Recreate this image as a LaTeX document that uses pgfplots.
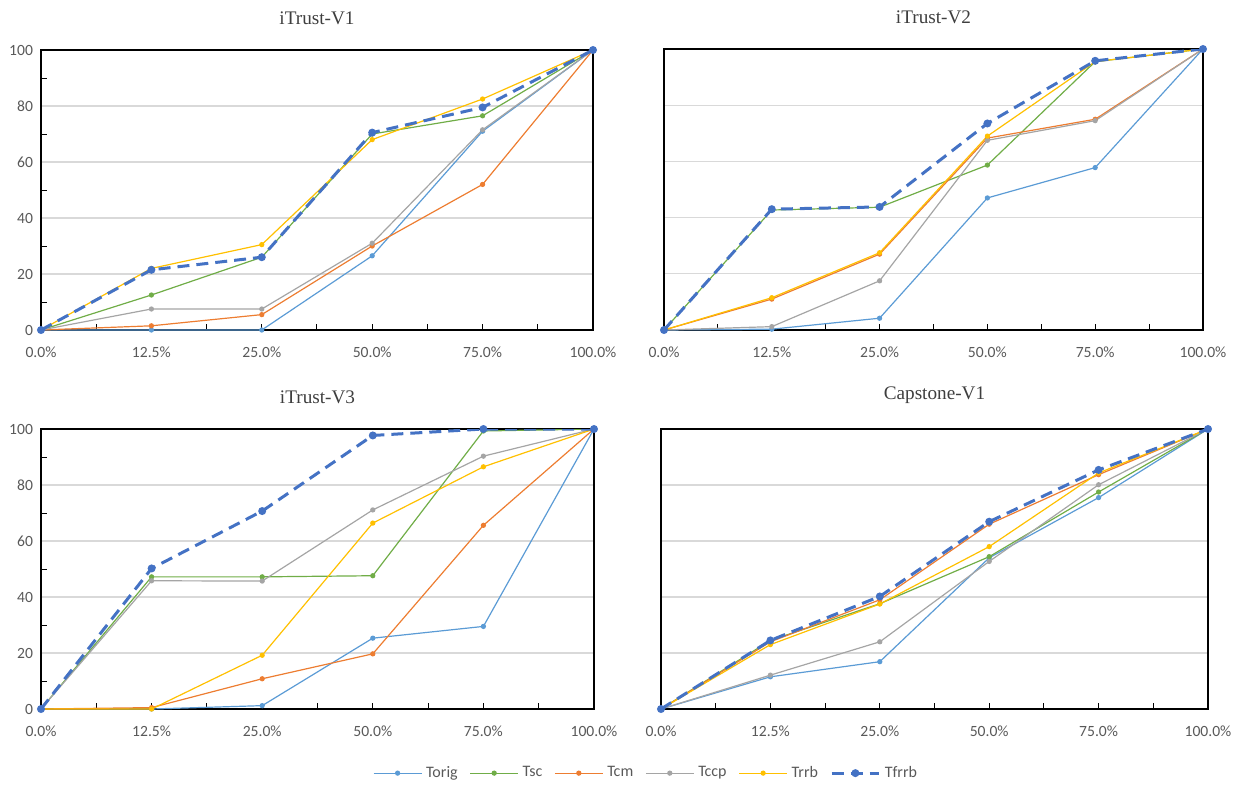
\documentclass[border=0pt]{standalone}
\usepackage{fontspec}
\setmainfont{Carlito}
\newfontfamily\titlefont{Liberation Serif}
\usepackage{pgfplots}
\pgfplotsset{compat=1.18}
\definecolor{corig}{HTML}{5B9BD5}
\definecolor{csc}{HTML}{70AD47}
\definecolor{ccm}{HTML}{ED7D31}
\definecolor{cccp}{HTML}{A5A5A5}
\definecolor{crrb}{HTML}{FFC000}
\definecolor{cfrrb}{HTML}{4472C4}
\definecolor{gridgray}{HTML}{D9D9D9}
\definecolor{labelgray}{HTML}{595959}
\pgfplotsset{
  panel/.style={
    scale only axis, height=140pt,
    xmin=0, xmax=5, ymin=0, ymax=100,
    xtick={0,...,5},
    xticklabels={0.0\%,12.5\%,25.0\%,50.0\%,75.0\%,100.0\%},
    minor xtick={0.5,1.5,...,4.5},
    ytick={0,20,...,100},
    ymajorgrids, grid style={draw=gridgray, line width=0.6pt},
    axis line style={black, line width=0.8pt},
    tick pos=left, tick align=inside,
    major tick length=3pt, minor tick length=3pt,
    tick style={black, line width=0.5pt},
    major y tick style={draw=none},
    ticklabel style={font=\fontsize{7.8}{9}\selectfont, text=labelgray},
    /pgf/number format/assume math mode=true,
    yticklabel style={xshift=-0.5pt},
    xticklabel style={yshift=-5pt},
    title style={font=\titlefont\fontsize{9.6}{11}\selectfont, text=labelgray!70!black, at={(0.5,1)}, anchor=south, yshift=3pt},
    every axis plot/.append style={line width=0.6pt, mark=*, mark size=1pt},
  },
  leftpanel/.style={panel, minor ytick={10,30,...,90}},
  rightpanel/.style={panel, yticklabels={}},
  sorig/.style={color=corig},
  ssc/.style={color=csc},
  scm/.style={color=ccm},
  sccp/.style={color=cccp},
  srrb/.style={color=crrb},
  sfrrb/.style={color=cfrrb, line width=1.5pt, dash pattern=on 6pt off 3.5pt, mark size=1.2pt, mark options={solid}},
}
\begin{document}
\begin{tikzpicture}
\useasboundingbox (0,0) rectangle (619.5pt,-392pt);
% Panel 1
\begin{axis}[leftpanel, width=276pt, at={(20.5pt,-165pt)}, anchor=south west, title={iTrust-V1}]
\addplot[sorig] coordinates {(0,0) (1,0) (2,0) (3,26.5) (4,71) (5,100)};
\addplot[ssc] coordinates {(0,0) (1,12.5) (2,26) (3,70) (4,76.5) (5,100)};
\addplot[scm] coordinates {(0,0) (1,1.5) (2,5.5) (3,30) (4,52) (5,100)};
\addplot[sccp] coordinates {(0,0) (1,7.5) (2,7.5) (3,31) (4,71.5) (5,100)};
\addplot[srrb] coordinates {(0,0) (1,22) (2,30.5) (3,68) (4,82.5) (5,100)};
\addplot[sfrrb] coordinates {(0,0) (1,21.5) (2,26) (3,70.5) (4,79.5) (5,100)};
\end{axis}
% Panel 2
\begin{axis}[rightpanel, width=269.5pt, height=140.5pt, at={(332pt,-165pt)}, anchor=south west, title={iTrust-V2}]
\addplot[sorig] coordinates {(0,0) (1,0.3) (2,4.2) (3,47) (4,57.8) (5,100)};
\addplot[ssc] coordinates {(0,0) (1,42.7) (2,43.7) (3,58.7) (4,95.5) (5,100)};
\addplot[scm] coordinates {(0,0) (1,11) (2,27) (3,68.3) (4,75) (5,100)};
\addplot[sccp] coordinates {(0,0) (1,1.2) (2,17.5) (3,67.5) (4,74.5) (5,100)};
\addplot[srrb] coordinates {(0,0) (1,11.5) (2,27.5) (3,69) (4,95.5) (5,100)};
\addplot[sfrrb] coordinates {(0,0) (1,43) (2,43.8) (3,73.5) (4,95.8) (5,100)};
\end{axis}
% Panel 3
\begin{axis}[leftpanel, width=276.5pt, at={(20.5pt,-354.5pt)}, anchor=south west, title={iTrust-V3},
  legend columns=6,
  legend style={at={(1.096,-0.229)}, anchor=center, draw=none, fill=none,
    font=\fontsize{8}{10}\selectfont, text=labelgray,
    /tikz/every even column/.append style={column sep=4pt}},
  legend image code/.code={\draw[mark repeat=2,mark phase=2] plot coordinates {(0cm,0cm) (0.42cm,0cm) (0.84cm,0cm)};}]
\addplot[sorig] coordinates {(0,0) (1,0) (2,1.2) (3,25.3) (4,29.5) (5,100)};
\addplot[ssc] coordinates {(0,0) (1,47.2) (2,47.2) (3,47.6) (4,99.3) (5,100)};
\addplot[scm] coordinates {(0,0) (1,0.5) (2,10.8) (3,19.7) (4,65.6) (5,100)};
\addplot[sccp] coordinates {(0,0) (1,45.8) (2,45.7) (3,71.1) (4,90.3) (5,100)};
\addplot[srrb] coordinates {(0,0) (1,0) (2,19.2) (3,66.4) (4,86.5) (5,100)};
\addplot[sfrrb] coordinates {(0,0) (1,50.2) (2,70.7) (3,97.7) (4,100) (5,100)};
\legend{Torig,Tsc,Tcm,Tccp,Trrb,Tfrrb}
\end{axis}
% Panel 4
\begin{axis}[rightpanel, width=273.5pt, at={(330.5pt,-354.5pt)}, anchor=south west, title={Capstone-V1}]
\addplot[sorig] coordinates {(0,0) (1,11.5) (2,16.9) (3,54) (4,75.5) (5,100)};
\addplot[ssc] coordinates {(0,0) (1,24.5) (2,37.6) (3,54.4) (4,77.5) (5,100)};
\addplot[scm] coordinates {(0,0) (1,24) (2,39) (3,66) (4,83.7) (5,100)};
\addplot[sccp] coordinates {(0,0) (1,12.1) (2,24) (3,52.7) (4,80.1) (5,100)};
\addplot[srrb] coordinates {(0,0) (1,23) (2,37.5) (3,58) (4,84.3) (5,100)};
\addplot[sfrrb] coordinates {(0,0) (1,24.5) (2,40.2) (3,66.9) (4,85.4) (5,100)};
\end{axis}
\end{tikzpicture}
\end{document}
